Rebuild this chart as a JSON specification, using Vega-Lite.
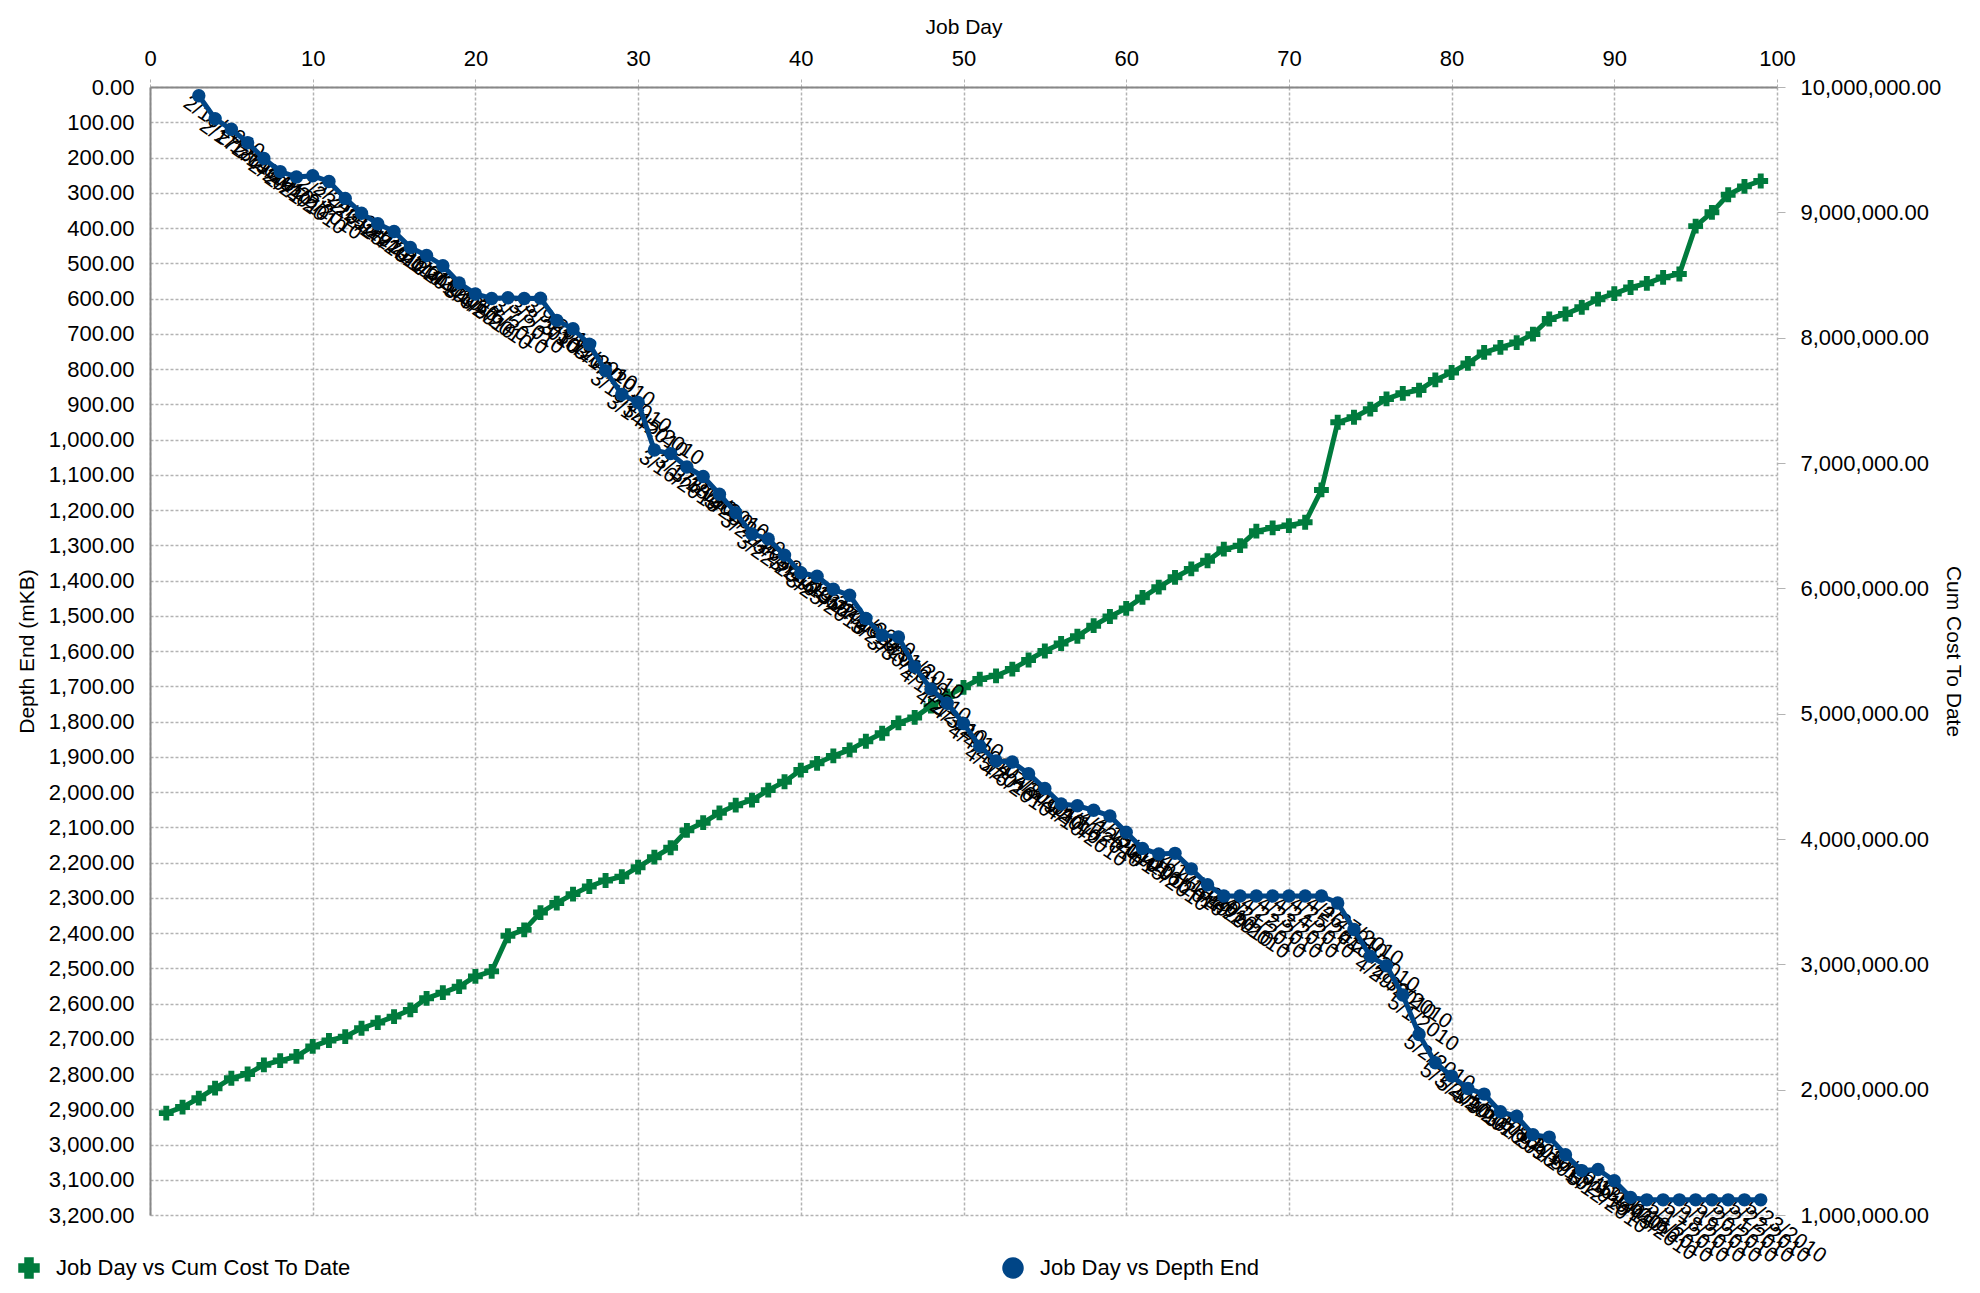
{
  "$schema": "https://vega.github.io/schema/vega-lite/v6.json",
  "width": 1627,
  "height": 1128,
  "autosize": {"type": "none"},
  "padding": {"left": 150, "top": 87, "right": 203, "bottom": 78},
  "background": "white",
  "config": {
    "font": "Liberation Sans",
    "view": {"stroke": null},
    "axis": {
      "labelFont": "Liberation Sans",
      "titleFont": "Liberation Sans",
      "labelFontSize": 22,
      "titleFontSize": 21,
      "titleFontWeight": "normal",
      "labelColor": "black",
      "titleColor": "black",
      "gridColor": "#b3b3b3",
      "gridDash": [3, 2],
      "gridWidth": 1.5,
      "domainColor": "#888888",
      "domainWidth": 2,
      "tickColor": "#b3b3b3",
      "labelFlush": false
    },
    "legend": {"labelFont": "Liberation Sans"}
  },
  "datasets": {
    "cost": [
      {"day": 1, "cost": 1813000}, {"day": 2, "cost": 1861000}, {"day": 3, "cost": 1932000},
      {"day": 4, "cost": 2012000}, {"day": 5, "cost": 2091000}, {"day": 6, "cost": 2125000},
      {"day": 7, "cost": 2198000}, {"day": 8, "cost": 2232000}, {"day": 9, "cost": 2265000},
      {"day": 10, "cost": 2345000}, {"day": 11, "cost": 2392000}, {"day": 12, "cost": 2423000},
      {"day": 13, "cost": 2490000}, {"day": 14, "cost": 2535000}, {"day": 15, "cost": 2583000},
      {"day": 16, "cost": 2636000}, {"day": 17, "cost": 2729000}, {"day": 18, "cost": 2774000},
      {"day": 19, "cost": 2822000}, {"day": 20, "cost": 2904000}, {"day": 21, "cost": 2944000},
      {"day": 22, "cost": 3228000}, {"day": 23, "cost": 3275000}, {"day": 24, "cost": 3413000},
      {"day": 25, "cost": 3489000}, {"day": 26, "cost": 3560000}, {"day": 27, "cost": 3621000},
      {"day": 28, "cost": 3669000}, {"day": 29, "cost": 3700000}, {"day": 30, "cost": 3775000},
      {"day": 31, "cost": 3855000}, {"day": 32, "cost": 3930000}, {"day": 33, "cost": 4069000},
      {"day": 34, "cost": 4130000}, {"day": 35, "cost": 4209000}, {"day": 36, "cost": 4270000},
      {"day": 37, "cost": 4310000}, {"day": 38, "cost": 4390000}, {"day": 39, "cost": 4457000},
      {"day": 40, "cost": 4550000}, {"day": 41, "cost": 4604000}, {"day": 42, "cost": 4663000},
      {"day": 43, "cost": 4711000}, {"day": 44, "cost": 4780000}, {"day": 45, "cost": 4844000},
      {"day": 46, "cost": 4926000}, {"day": 47, "cost": 4970000}, {"day": 48, "cost": 5060000},
      {"day": 49, "cost": 5140000}, {"day": 50, "cost": 5210000}, {"day": 51, "cost": 5276000},
      {"day": 52, "cost": 5302000}, {"day": 53, "cost": 5356000}, {"day": 54, "cost": 5428000},
      {"day": 55, "cost": 5500000}, {"day": 56, "cost": 5560000}, {"day": 57, "cost": 5618000},
      {"day": 58, "cost": 5702000}, {"day": 59, "cost": 5775000}, {"day": 60, "cost": 5840000},
      {"day": 61, "cost": 5928000}, {"day": 62, "cost": 6009000}, {"day": 63, "cost": 6088000},
      {"day": 64, "cost": 6155000}, {"day": 65, "cost": 6220000}, {"day": 66, "cost": 6313000},
      {"day": 67, "cost": 6341000}, {"day": 68, "cost": 6456000}, {"day": 69, "cost": 6482000},
      {"day": 70, "cost": 6501000}, {"day": 71, "cost": 6527000}, {"day": 72, "cost": 6785000},
      {"day": 73, "cost": 7325000}, {"day": 74, "cost": 7365000}, {"day": 75, "cost": 7430000},
      {"day": 76, "cost": 7511000}, {"day": 77, "cost": 7556000}, {"day": 78, "cost": 7582000},
      {"day": 79, "cost": 7663000}, {"day": 80, "cost": 7722000}, {"day": 81, "cost": 7795000},
      {"day": 82, "cost": 7882000}, {"day": 83, "cost": 7922000}, {"day": 84, "cost": 7961000},
      {"day": 85, "cost": 8028000}, {"day": 86, "cost": 8149000}, {"day": 87, "cost": 8189000},
      {"day": 88, "cost": 8242000}, {"day": 89, "cost": 8307000}, {"day": 90, "cost": 8352000},
      {"day": 91, "cost": 8400000}, {"day": 92, "cost": 8433000}, {"day": 93, "cost": 8481000},
      {"day": 94, "cost": 8508000}, {"day": 95, "cost": 8890000}, {"day": 96, "cost": 9000000},
      {"day": 97, "cost": 9140000}, {"day": 98, "cost": 9207000}, {"day": 99, "cost": 9250000}
    ],
    "depth": [
      {"day": 3, "depth": 25, "date": "2/16/2010"}, {"day": 4, "depth": 90, "date": "2/17/2010"},
      {"day": 5, "depth": 120, "date": "2/18/2010"}, {"day": 6, "depth": 158, "date": "2/19/2010"},
      {"day": 7, "depth": 203, "date": "2/20/2010"}, {"day": 8, "depth": 240, "date": "2/21/2010"},
      {"day": 9, "depth": 255, "date": "2/22/2010"}, {"day": 10, "depth": 252, "date": "2/23/2010"},
      {"day": 11, "depth": 268, "date": "2/24/2010"}, {"day": 12, "depth": 316, "date": "2/25/2010"},
      {"day": 13, "depth": 358, "date": "2/26/2010"}, {"day": 14, "depth": 388, "date": "2/27/2010"},
      {"day": 15, "depth": 410, "date": "2/28/2010"}, {"day": 16, "depth": 455, "date": "3/1/2010"},
      {"day": 17, "depth": 478, "date": "3/2/2010"}, {"day": 18, "depth": 507, "date": "3/3/2010"},
      {"day": 19, "depth": 556, "date": "3/4/2010"}, {"day": 20, "depth": 587, "date": "3/5/2010"},
      {"day": 21, "depth": 600, "date": "3/6/2010"}, {"day": 22, "depth": 598, "date": "3/7/2010"},
      {"day": 23, "depth": 600, "date": "3/8/2010"}, {"day": 24, "depth": 599, "date": "3/9/2010"},
      {"day": 25, "depth": 662, "date": "3/10/2010"}, {"day": 26, "depth": 686, "date": "3/11/2010"},
      {"day": 27, "depth": 730, "date": "3/12/2010"}, {"day": 28, "depth": 805, "date": "3/13/2010"},
      {"day": 29, "depth": 872, "date": "3/14/2010"}, {"day": 30, "depth": 895, "date": "3/15/2010"},
      {"day": 31, "depth": 1030, "date": "3/16/2010"}, {"day": 32, "depth": 1040, "date": "3/17/2010"},
      {"day": 33, "depth": 1078, "date": "3/18/2010"}, {"day": 34, "depth": 1105, "date": "3/19/2010"},
      {"day": 35, "depth": 1155, "date": "3/20/2010"}, {"day": 36, "depth": 1208, "date": "3/21/2010"},
      {"day": 37, "depth": 1268, "date": "3/22/2010"}, {"day": 38, "depth": 1282, "date": "3/23/2010"},
      {"day": 39, "depth": 1328, "date": "3/24/2010"}, {"day": 40, "depth": 1378, "date": "3/25/2010"},
      {"day": 41, "depth": 1388, "date": "3/26/2010"}, {"day": 42, "depth": 1425, "date": "3/27/2010"},
      {"day": 43, "depth": 1442, "date": "3/28/2010"}, {"day": 44, "depth": 1508, "date": "3/29/2010"},
      {"day": 45, "depth": 1555, "date": "3/30/2010"}, {"day": 46, "depth": 1560, "date": "3/31/2010"},
      {"day": 47, "depth": 1645, "date": "4/1/2010"}, {"day": 48, "depth": 1708, "date": "4/2/2010"},
      {"day": 49, "depth": 1748, "date": "4/3/2010"}, {"day": 50, "depth": 1806, "date": "4/4/2010"},
      {"day": 51, "depth": 1870, "date": "4/5/2010"}, {"day": 52, "depth": 1912, "date": "4/6/2010"},
      {"day": 53, "depth": 1915, "date": "4/7/2010"}, {"day": 54, "depth": 1948, "date": "4/8/2010"},
      {"day": 55, "depth": 1990, "date": "4/9/2010"}, {"day": 56, "depth": 2034, "date": "4/10/2010"},
      {"day": 57, "depth": 2039, "date": "4/11/2010"}, {"day": 58, "depth": 2052, "date": "4/12/2010"},
      {"day": 59, "depth": 2068, "date": "4/13/2010"}, {"day": 60, "depth": 2114, "date": "4/14/2010"},
      {"day": 61, "depth": 2160, "date": "4/15/2010"}, {"day": 62, "depth": 2176, "date": "4/16/2010"},
      {"day": 63, "depth": 2174, "date": "4/17/2010"}, {"day": 64, "depth": 2218, "date": "4/18/2010"},
      {"day": 65, "depth": 2263, "date": "4/19/2010"}, {"day": 66, "depth": 2295, "date": "4/20/2010"},
      {"day": 67, "depth": 2295, "date": "4/21/2010"}, {"day": 68, "depth": 2295, "date": "4/22/2010"},
      {"day": 69, "depth": 2295, "date": "4/23/2010"}, {"day": 70, "depth": 2295, "date": "4/24/2010"},
      {"day": 71, "depth": 2295, "date": "4/25/2010"}, {"day": 72, "depth": 2295, "date": "4/26/2010"},
      {"day": 73, "depth": 2315, "date": "4/27/2010"}, {"day": 74, "depth": 2390, "date": "4/28/2010"},
      {"day": 75, "depth": 2466, "date": "4/29/2010"}, {"day": 76, "depth": 2493, "date": "4/30/2010"},
      {"day": 77, "depth": 2576, "date": "5/1/2010"}, {"day": 78, "depth": 2688, "date": "5/2/2010"},
      {"day": 79, "depth": 2768, "date": "5/3/2010"}, {"day": 80, "depth": 2806, "date": "5/4/2010"},
      {"day": 81, "depth": 2841, "date": "5/5/2010"}, {"day": 82, "depth": 2857, "date": "5/6/2010"},
      {"day": 83, "depth": 2907, "date": "5/7/2010"}, {"day": 84, "depth": 2920, "date": "5/8/2010"},
      {"day": 85, "depth": 2972, "date": "5/9/2010"}, {"day": 86, "depth": 2979, "date": "5/10/2010"},
      {"day": 87, "depth": 3029, "date": "5/11/2010"}, {"day": 88, "depth": 3074, "date": "5/12/2010"},
      {"day": 89, "depth": 3071, "date": "5/13/2010"}, {"day": 90, "depth": 3103, "date": "5/14/2010"},
      {"day": 91, "depth": 3150, "date": "5/15/2010"}, {"day": 92, "depth": 3157, "date": "5/16/2010"},
      {"day": 93, "depth": 3157, "date": "5/17/2010"}, {"day": 94, "depth": 3157, "date": "5/18/2010"},
      {"day": 95, "depth": 3157, "date": "5/19/2010"}, {"day": 96, "depth": 3157, "date": "5/20/2010"},
      {"day": 97, "depth": 3157, "date": "5/21/2010"}, {"day": 98, "depth": 3157, "date": "5/22/2010"},
      {"day": 99, "depth": 3157, "date": "5/23/2010"}
    ]
  },
  "encoding": {
    "x": {
      "field": "day",
      "type": "quantitative",
      "scale": {"domain": [0, 100], "nice": false},
      "axis": {
        "orient": "top",
        "title": "Job Day",
        "values": [0, 10, 20, 30, 40, 50, 60, 70, 80, 90, 100],
        "format": "d",
        "tickSize": 10,
        "tickDash": [3, 2],
        "labelPadding": 7,
        "titlePadding": 10,
        "grid": true
      }
    }
  },
  "layer": [
    {
      "data": {"name": "cost"},
      "encoding": {
        "y": {
          "field": "cost",
          "type": "quantitative",
          "scale": {"domain": [1000000, 10000000], "nice": false, "zero": false},
          "axis": {
            "orient": "right",
            "title": "Cum Cost To Date",
            "values": [1000000, 2000000, 3000000, 4000000, 5000000, 6000000, 7000000, 8000000, 9000000, 10000000],
            "format": ",.2f",
            "grid": false,
            "domain": false,
            "tickSize": 8,
            "labelPadding": 15,
            "titlePadding": 2
          }
        }
      },
      "layer": [
        {
          "mark": {"type": "line", "strokeWidth": 5, "strokeJoin": "round"},
          "encoding": {
            "color": {
              "datum": "Job Day vs Cum Cost To Date",
              "type": "nominal",
              "scale": {
                "domain": ["Job Day vs Cum Cost To Date", "Job Day vs Depth End"],
                "range": ["#007b3d", "#004586"]
              },
              "legend": {
                "title": null,
                "orient": "none",
                "legendX": -132,
                "legendY": 1170,
                "direction": "horizontal",
                "columns": 2,
                "columnPadding": 649,
                "labelFontSize": 22,
                "labelLimit": 600,
                "symbolSize": 400,
                "labelOffset": 16
              }
            }
          }
        },
        {
          "mark": {"type": "point", "filled": true, "size": 220, "opacity": 1},
          "encoding": {
            "color": {"datum": "Job Day vs Cum Cost To Date", "type": "nominal"},
            "shape": {
              "datum": "Job Day vs Cum Cost To Date",
              "type": "nominal",
              "scale": {
                "domain": ["Job Day vs Cum Cost To Date", "Job Day vs Depth End"],
                "range": ["cross", "circle"]
              },
              "legend": null
            }
          }
        }
      ]
    },
    {
      "data": {"name": "depth"},
      "encoding": {
        "y": {
          "field": "depth",
          "type": "quantitative",
          "scale": {"domain": [0, 3200], "nice": false, "reverse": true},
          "axis": {
            "orient": "left",
            "title": "Depth End (mKB)",
            "values": [0, 100, 200, 300, 400, 500, 600, 700, 800, 900, 1000, 1100, 1200, 1300, 1400, 1500, 1600, 1700, 1800, 1900, 2000, 2100, 2200, 2300, 2400, 2500, 2600, 2700, 2800, 2900, 3000, 3100, 3200],
            "format": ",.2f",
            "grid": true,
            "ticks": false,
            "labelPadding": 16,
            "titlePadding": 11
          }
        }
      },
      "layer": [
        {
          "mark": {
            "type": "text",
            "angle": 35,
            "align": "left",
            "baseline": "middle",
            "dx": -8,
            "dy": 12,
            "fontSize": 21,
            "font": "Liberation Sans",
            "color": "black"
          },
          "encoding": {"text": {"field": "date", "type": "nominal"}}
        },
        {
          "mark": {"type": "line", "strokeWidth": 5, "strokeJoin": "round"},
          "encoding": {"color": {"datum": "Job Day vs Depth End", "type": "nominal"}}
        },
        {
          "mark": {"type": "point", "filled": true, "size": 180, "opacity": 1},
          "encoding": {
            "color": {"datum": "Job Day vs Depth End", "type": "nominal"},
            "shape": {"datum": "Job Day vs Depth End", "type": "nominal"}
          }
        }
      ]
    }
  ],
  "resolve": {"scale": {"y": "independent"}}
}
